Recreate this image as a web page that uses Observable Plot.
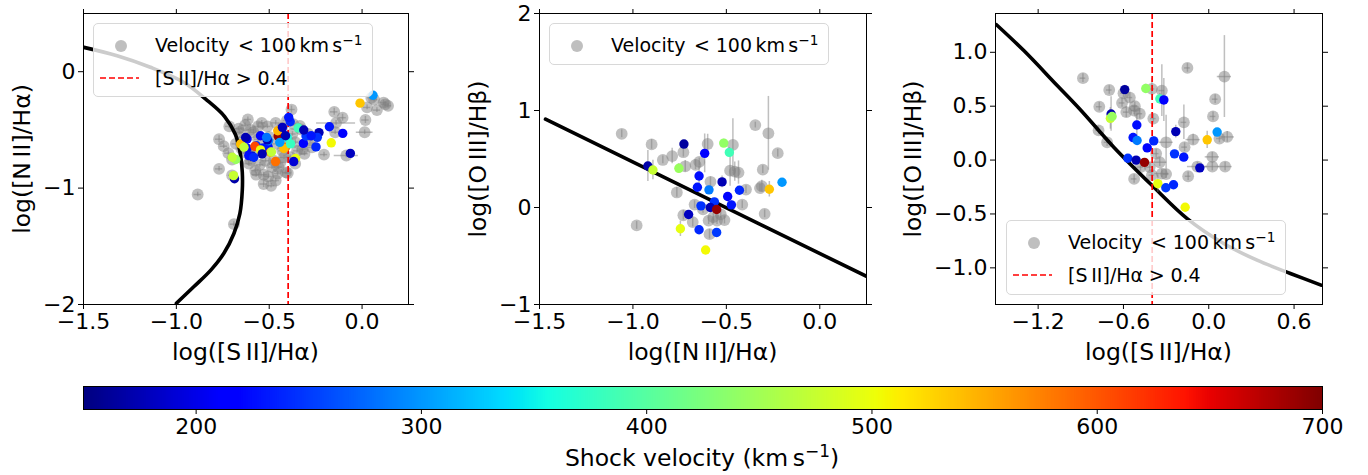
<!DOCTYPE html>
<html>
<head>
<meta charset="utf-8">
<script src="https://cdn.jsdelivr.net/npm/d3@7"></script>
<script src="https://cdn.jsdelivr.net/npm/@observablehq/plot@0.6"></script>
<style>
  html, body { margin: 0; padding: 0; background: #fff; }
  body { font-family: "DejaVu Sans", sans-serif; color: #000; }
  #wrap { position: relative; width: 1368px; height: 475px; overflow: hidden; background: #fff; }
  .pane { position: absolute; top: 0; }
  .pane svg { overflow: visible; }
  .lab { position: absolute; font-size: 23.5px; line-height: 1.2; white-space: nowrap; transform: translate(-50%, -50%); }
  .ylab { transform: translate(-50%, -50%) rotate(-90deg); }
  .lab sup, .ltext sup { font-size: 0.72em; vertical-align: 0.5em; line-height: 0; }
  .legend { position: absolute; box-sizing: border-box; background: rgba(255,255,255,0.8); border: 1px solid #d8d8d8; border-radius: 5px; }
  .ltext { position: absolute; font-size: 19px; line-height: 1.2; white-space: nowrap; transform: translateY(-50%); }
  .legend svg { position: absolute; left: 0; top: 0; }
</style>
</head>
<body>
<div id="wrap"></div>
<script>
// ---------------- data ----------------
// Shock-velocity objects (appear in all three panels)
const shockVel   = [165, 440, 385, 215, 170, 475, 445, 225, 175, 300, 230, 285, 535, 240, 220, 245, 230, 245, 175, 690, 180, 497, 240, 250, 505];
const shockN2    = [-0.727, -0.514, -0.484, -0.616, -0.92, -0.893, -0.754, -0.646, -0.523, -0.202, -0.655, -0.593, -0.27, -0.43, -0.493, -0.564, -0.473, -0.636, -0.586, -0.552, -0.702, -0.746, -0.646, -0.552, -0.611];
const shockS2    = [-0.591, -0.443, -0.344, -0.316, -0.687, -0.692, -0.68, -0.506, -0.232, 0.059, -0.532, -0.504, -0.011, -0.387, -0.433, -0.241, -0.176, -0.569, -0.511, -0.452, -0.063, -0.358, -0.248, -0.302, -0.166];
const shockO3    = [0.654, 0.664, 0.568, 0.558, 0.428, 0.387, 0.404, 0.325, 0.264, 0.26, 0.209, 0.182, 0.188, 0.178, 0.113, 0.058, 0.027, 0.017, 0.0, -0.021, -0.072, -0.219, -0.229, -0.257, -0.438];
const shockO3Err = [0.04, 0.04, 0.05, 0.2, 0.16, 0.1, 0.05, 0.1, 0.06, 0.03, 0.04, 0.04, 0.08, 0.04, 0.04, 0.03, 0.04, 0.03, 0.03, 0.03, 0.03, 0.08, 0.03, 0.03, 0.03];

// Extra shock objects seen only in panel 1: [log SII/Ha, log NII/Ha, velocity]
const p1Extra = [
  [-0.104,-0.53,215],[-0.395,-0.393,230],[-0.403,-0.564,360],[-0.412,-0.649,590],[-0.421,-0.66,540],
  [-0.454,-0.507,545],[-0.443,-0.607,300],[-0.385,-0.62,380],[-0.493,-0.692,560],[-0.466,-0.772,585],
  [-0.488,-0.69,470],[-0.547,-0.55,220],[-0.619,-0.578,215],[-0.619,-0.658,220],[-0.61,-0.721,225],
  [-0.577,-0.641,610],[-0.654,-0.621,540],[-0.636,-0.649,470],[-0.627,-0.565,175],[-0.583,-0.735,240],
  [-0.547,-0.672,500],[-0.429,-0.478,180],[-0.368,-0.772,190],[-0.538,-0.706,175],[-0.514,-0.564,280],
  [-0.412,-0.55,175],[-0.274,-0.55,230],[-0.314,-0.501,175],[-0.699,-0.735,470]
];

// Velocity < 100 km/s objects. Panel 1: [log SII/Ha, log NII/Ha, xerr, yerr]
const p1Gray = [
  [-0.885,-1.055,0.02,0.02],[-0.69,-1.31,0.02,0.02],[-0.77,-0.58,0.02,0.03],[-0.77,-0.835,0.02,0.02],
  [-0.70,-0.755,0.02,0.02],[-0.70,-0.89,0.02,0.03],[-0.715,-0.47,0.02,0.02],[-0.665,-0.49,0.02,0.02],
  [-0.63,-0.46,0.02,0.02],[-0.615,-0.41,0.02,0.02],[-0.585,-0.52,0.02,0.02],[-0.54,-0.44,0.02,0.02],
  [-0.51,-0.47,0.02,0.02],[-0.465,-0.44,0.02,0.02],[-0.38,-0.325,0.02,0.03],[-0.405,-0.42,0.02,0.02],
  [-0.335,-0.465,0.02,0.02],[-0.375,-0.535,0.02,0.02],[-0.33,-0.495,0.02,0.02],[-0.29,-0.535,0.02,0.02],
  [-0.36,-0.605,0.02,0.02],[-0.32,-0.665,0.02,0.02],[-0.27,-0.65,0.02,0.02],[-0.35,-0.68,0.02,0.02],
  [-0.31,-0.705,0.02,0.02],[-0.28,-0.59,0.02,0.02],[-0.205,-0.712,0.02,0.02],[-0.15,-0.345,0.02,0.03],
  [-0.105,-0.395,0.02,0.03],[-0.14,-0.44,0.105,0.02],[-0.145,-0.52,0.02,0.02],[0.018,-0.415,0.02,0.03],
  [0.014,-0.52,0.045,0.02],[0.027,-0.307,0.02,0.02],[0.08,-0.33,0.02,0.02],[0.05,-0.225,0.02,0.02],
  [0.116,-0.265,0.02,0.02],[0.14,-0.293,0.02,0.02],[0.125,-0.28,0.02,0.02],[0.065,-0.24,0.02,0.02],
  [-0.085,-0.72,0.065,0.02],[-0.61,-0.79,0.02,0.02],[-0.575,-0.85,0.02,0.02],[-0.53,-0.885,0.02,0.02],
  [-0.505,-0.9,0.02,0.02],[-0.53,-0.965,0.02,0.03],[-0.485,-0.82,0.02,0.02],[-0.455,-0.875,0.02,0.02],
  [-0.41,-0.865,0.02,0.02],[-0.44,-0.78,0.02,0.02],[-0.52,-0.765,0.02,0.02],[-0.36,-0.79,0.02,0.02],
  [-0.465,-0.935,0.02,0.02],[-0.475,-0.765,0.02,0.02],[-0.42,-0.735,0.02,0.02],[-0.385,-0.735,0.02,0.02],
  [-0.43,-0.68,0.02,0.02],[-0.45,-0.82,0.02,0.02],[-0.57,-0.885,0.02,0.02],[-0.60,-0.76,0.02,0.02],
  [-0.64,-0.59,0.02,0.02],[-0.58,-0.68,0.02,0.02],[-0.66,-0.52,0.02,0.02],[-0.56,-0.58,0.02,0.02],
  [-0.50,-0.56,0.02,0.02],[-0.46,-0.62,0.02,0.02],[-0.40,-0.60,0.02,0.02],[-0.52,-0.66,0.02,0.02],
  [-0.55,-0.80,0.02,0.02],[-0.62,-0.70,0.02,0.02],[-0.65,-0.66,0.02,0.02],[-0.68,-0.62,0.02,0.02],
  [-0.72,-0.70,0.02,0.02],[-0.745,-0.64,0.02,0.02],[-0.60,-0.50,0.02,0.02],[-0.56,-0.47,0.02,0.02],
  [-0.43,-0.48,0.02,0.02],[-0.37,-0.45,0.02,0.02],[-0.40,-0.87,0.02,0.02],[-0.49,-0.98,0.02,0.02]
];
// Panel 2: [log NII/Ha, log OIII/Hb, yerr]
const p2Gray = [
  [-1.06,0.76,0.04],[-0.90,0.65,0.05],[-0.84,0.49,0.04],[-0.79,0.53,0.08],[-0.73,0.57,0.05],
  [-0.72,0.425,0.06],[-0.665,0.44,0.05],[-0.645,0.47,0.04],[-0.60,0.655,0.1],[-0.765,0.155,0.05],
  [-0.585,0.265,0.05],[-0.67,0.03,0.04],[-0.625,-0.02,0.04],[-0.73,-0.08,0.05],[-0.68,-0.15,0.05],
  [-0.595,-0.135,0.04],[-0.55,-0.135,0.04],[-0.51,-0.13,0.04],[-0.53,-0.07,0.04],[-0.57,-0.10,0.04],
  [-0.59,-0.275,0.05],[-0.465,0.645,0.27],[-0.48,0.38,0.16],[-0.455,0.37,0.1],[-0.435,0.36,0.12],
  [-0.395,0.185,0.04],[-0.415,0.03,0.04],[-0.345,0.85,0.03],[-0.275,0.765,0.38],[-0.225,0.56,0.04],
  [-0.305,0.39,0.04],[-0.32,0.20,0.04],[-0.31,0.22,0.06],[-0.295,-0.065,0.04],[-0.98,-0.185,0.04]
];
// Panel 3: [log SII/Ha, log OIII/Hb, xerr, yerr]
const p3Gray = [
  [-0.885,0.76,0.02,0.04],[-0.70,0.65,0.02,0.04],[-0.77,0.495,0.02,0.04],[-0.60,0.62,0.02,0.04],
  [-0.555,0.58,0.02,0.05],[-0.61,0.53,0.02,0.04],[-0.58,0.445,0.02,0.05],[-0.525,0.46,0.02,0.04],
  [-0.485,0.43,0.02,0.05],[-0.52,0.50,0.02,0.04],[-0.39,0.385,0.02,0.04],[-0.40,0.66,0.02,0.1],
  [-0.33,0.645,0.02,0.24],[-0.15,0.855,0.02,0.04],[0.11,0.775,0.05,0.38],[0.045,0.565,0.02,0.04],
  [0.03,0.405,0.02,0.04],[-0.175,0.35,0.02,0.16],[-0.11,0.19,0.05,0.05],[-0.17,0.12,0.02,0.04],
  [-0.30,0.165,0.05,0.25],[0.075,0.20,0.02,0.04],[0.13,0.215,0.05,0.05],[-0.37,0.06,0.02,0.04],
  [-0.345,-0.02,0.05,0.04],[-0.415,-0.065,0.02,0.04],[-0.40,-0.14,0.02,0.05],[-0.33,-0.125,0.05,0.04],
  [-0.30,-0.13,0.02,0.04],[-0.525,-0.175,0.02,0.04],[-0.48,-0.065,0.02,0.04],[-0.715,0.165,0.02,0.04],
  [-0.775,0.275,0.02,0.04],[-0.145,-0.15,0.02,0.04],[0.025,0.03,0.05,0.04],[0.025,-0.06,0.05,0.04],
  [-0.08,-0.06,0.07,0.04],[0.115,-0.06,0.05,0.04]
];

// Demarcation curves
const p1Curve = [[-1.498,0.209],[-1.319,0.137],[-1.14,0.038],[-0.961,-0.091],[-0.842,-0.236],[-0.74,-0.385],
  [-0.682,-0.54],[-0.654,-0.72],[-0.645,-0.863],[-0.645,-1.02],[-0.658,-1.22],[-0.69,-1.39],[-0.744,-1.56],
  [-0.812,-1.70],[-0.905,-1.846],[-1.0,-1.99]];
const p2Curve = [[-1.468,0.91],[0.25,-0.71]];
const p3Curve = [[-1.493,1.256],[-1.301,1.016],[-1.066,0.692],[-0.903,0.467],[-0.668,0.12],[-0.4,-0.234],
  [-0.152,-0.543],[0.105,-0.774],[0.34,-0.929],[0.574,-1.052],[0.79,-1.16]];
const sIIThreshold = -0.398; // log10(0.4)

// Axis ticks
const p1XTicks = [-1.5, -1.0, -0.5, 0.0], p1YTicks = [-2, -1, 0];
const p2XTicks = [-1.5, -1.0, -0.5, 0.0], p2YTicks = [-1, 0, 1, 2];
const p3XTicks = [-1.2, -0.6, 0.0, 0.6], p3YTicks = [-1.0, -0.5, 0.0, 0.5, 1.0];
const velocityTicks = [200, 300, 400, 500, 600, 700];
const velocityDomain = [150, 700];

// ---------------- jet colormap ----------------
const jetR = d3.scaleLinear([0, 0.35, 0.66, 0.89, 1], [0, 0, 1, 1, 0.5]).clamp(true);
const jetG = d3.scaleLinear([0, 0.125, 0.375, 0.64, 0.91, 1], [0, 0, 1, 1, 0, 0]).clamp(true);
const jetB = d3.scaleLinear([0, 0.11, 0.34, 0.65, 1], [0.5, 1, 1, 0, 0]).clamp(true);
const jet = t => d3.rgb(255 * jetR(t), 255 * jetG(t), 255 * jetB(t)).formatHex();
const colorScale = {type: "linear", domain: velocityDomain, interpolate: jet, clamp: true};

const GRAY = "#808080";
const TICK_FONT = 22;
const wrap = document.getElementById("wrap");

function panel(o) {
  const marks = [
    Plot.ruleX(o.gray, {x: o.gx, y1: d => o.gy(d) - o.gey(d), y2: d => o.gy(d) + o.gey(d), stroke: GRAY, strokeOpacity: 0.5, strokeWidth: 1.5, clip: true}),
  ];
  if (o.gex) marks.push(Plot.ruleY(o.gray, {y: o.gy, x1: d => o.gx(d) - o.gex(d), x2: d => o.gx(d) + o.gex(d), stroke: GRAY, strokeOpacity: 0.5, strokeWidth: 1.5, clip: true}));
  marks.push(Plot.dot(o.gray, {x: o.gx, y: o.gy, r: 5.9, fill: GRAY, fillOpacity: 0.5, clip: true}));
  marks.push(Plot.line(o.curve, {x: d => d[0], y: d => d[1], stroke: "#000", strokeWidth: 3.6, curve: "catmull-rom", clip: true}));
  if (o.red != null) marks.push(Plot.ruleX([o.red], {stroke: "#ff0000", strokeWidth: 1.7, strokeDasharray: "6,3"}));
  if (o.colorErr) marks.push(Plot.ruleX(o.colored, {x: "x", y1: d => d.y - d.e, y2: d => d.y + d.e, stroke: GRAY, strokeOpacity: 0.5, strokeWidth: 1.5, clip: true}));
  marks.push(Plot.dot(o.colored, {x: "x", y: "y", fill: "v", r: 4.7, clip: true}));
  marks.push(Plot.frame({stroke: "#000", strokeWidth: 1}));
  marks.push(Plot.axisX({ticks: o.xTicks, tickFormat: d3.format(".1f"), tickSize: 5, tickPadding: 4, fontSize: TICK_FONT, label: null}));
  marks.push(Plot.axisX({anchor: "top", ticks: o.xTicks, tickFormat: () => "", tickSize: 5, label: null}));
  marks.push(Plot.axisY({ticks: o.yTicks, tickFormat: d3.format(o.yFmt), tickSize: 5, tickPadding: 3, fontSize: TICK_FONT, label: null}));
  marks.push(Plot.axisY({anchor: "right", ticks: o.yTicks, tickFormat: () => "", tickSize: 5, label: null}));
  const svg = Plot.plot({
    width: o.width, height: 370,
    marginLeft: o.ml, marginRight: o.mr, marginTop: 13, marginBottom: 66,
    style: {fontFamily: "DejaVu Sans", fontSize: TICK_FONT + "px", color: "#000", background: "transparent"},
    x: {domain: o.xDomain},
    y: {domain: o.yDomain},
    color: colorScale,
    marks
  });
  const div = document.createElement("div");
  div.className = "pane";
  div.style.left = o.left + "px";
  div.appendChild(svg);
  wrap.appendChild(div);
}

const shockP1 = shockVel.map((v, i) => ({x: shockS2[i], y: shockN2[i], v}))
  .concat(p1Extra.map(d => ({x: d[0], y: d[1], v: d[2]})));
const shockP2 = shockVel.map((v, i) => ({x: shockN2[i], y: shockO3[i], v, e: shockO3Err[i]}));
const shockP3 = shockVel.map((v, i) => ({x: shockS2[i], y: shockO3[i], v, e: shockO3Err[i]}));

panel({left: 0, width: 440, ml: 83, mr: 32, xDomain: [-1.5, 0.25], yDomain: [-2, 0.5],
  gray: p1Gray, gx: d => d[0], gy: d => d[1], gex: d => d[2], gey: d => d[3],
  curve: p1Curve, red: sIIThreshold, colored: shockP1, colorErr: false,
  xTicks: p1XTicks, yTicks: p1YTicks, yFmt: "d"});
panel({left: 440, width: 440, ml: 99, mr: 14, xDomain: [-1.5, 0.25], yDomain: [-1, 2],
  gray: p2Gray, gx: d => d[0], gy: d => d[1], gex: null, gey: d => d[2],
  curve: p2Curve, red: null, colored: shockP2, colorErr: true,
  xTicks: p2XTicks, yTicks: p2YTicks, yFmt: "d"});
panel({left: 890, width: 478, ml: 105, mr: 46, xDomain: [-1.5, 0.8], yDomain: [-1.34, 1.36],
  gray: p3Gray, gx: d => d[0], gy: d => d[1], gex: d => d[2], gey: d => d[3],
  curve: p3Curve, red: sIIThreshold, colored: shockP3, colorErr: true,
  xTicks: p3XTicks, yTicks: p3YTicks, yFmt: ".1f"});

// ---------------- colorbar ----------------
const cbSteps = d3.range(velocityDomain[0], velocityDomain[1], 1);
const cb = Plot.plot({
  width: 1368, height: 105, marginLeft: 83, marginRight: 46, marginTop: 16, marginBottom: 66,
  style: {fontFamily: "DejaVu Sans", fontSize: TICK_FONT + "px", color: "#000", background: "transparent"},
  x: {domain: velocityDomain},
  color: colorScale,
  marks: [
    Plot.rect(cbSteps, {x1: d => d, x2: d => d + 1.4, fill: d => d + 0.5, clip: true}),
    Plot.frame({stroke: "#000", strokeWidth: 1}),
    Plot.axisX({ticks: velocityTicks, tickFormat: d3.format("d"), tickSize: 5, tickPadding: 4, fontSize: TICK_FONT, label: null})
  ]
});
const cbDiv = document.createElement("div");
cbDiv.className = "pane";
cbDiv.style.left = "0px";
cbDiv.style.top = "370px";
cbDiv.appendChild(cb);
wrap.appendChild(cbDiv);

// ---------------- labels ----------------
function label(html, x, y, rotate) {
  const d = document.createElement("div");
  d.className = "lab" + (rotate ? " ylab" : "");
  d.style.left = x + "px";
  d.style.top = y + "px";
  d.innerHTML = html;
  wrap.appendChild(d);
}
const SII = "log([S\u2009II]/H\u03b1)", NII = "log([N\u2009II]/H\u03b1)", OIII = "log([O\u2009III]/H\u03b2)";
label(SII, 245.5, 352);
label(NII, 22, 158.5, true);
label(NII, 702.5, 352);
label(OIII, 478, 158.5, true);
label(SII, 1158.5, 352);
label(OIII, 913, 158.5, true);
label("Shock velocity (km\u2009s<sup>\u22121</sup>)", 702, 458);

// ---------------- legends ----------------
function legend(left, top, width, height, withRed) {
  const box = document.createElement("div");
  box.className = "legend";
  Object.assign(box.style, {left: left + "px", top: top + "px", width: width + "px", height: height + "px"});
  const ns = "http://www.w3.org/2000/svg";
  const s = document.createElementNS(ns, "svg");
  s.setAttribute("width", width); s.setAttribute("height", height);
  const c = document.createElementNS(ns, "circle");
  c.setAttribute("cx", 27); c.setAttribute("cy", 22); c.setAttribute("r", 6);
  c.setAttribute("fill", GRAY); c.setAttribute("fill-opacity", 0.5);
  s.appendChild(c);
  if (withRed) {
    const l = document.createElementNS(ns, "line");
    l.setAttribute("x1", 6); l.setAttribute("x2", 45); l.setAttribute("y1", 54); l.setAttribute("y2", 54);
    l.setAttribute("stroke", "#ff0000"); l.setAttribute("stroke-width", 1.7); l.setAttribute("stroke-dasharray", "6,3");
    s.appendChild(l);
  }
  box.appendChild(s);
  const t1 = document.createElement("div");
  t1.className = "ltext"; t1.style.left = "61px"; t1.style.top = "21px";
  t1.innerHTML = 'Velocity<span style="margin-left:.45em">&lt;</span><span style="margin-left:.3em">100</span><span style="margin-left:.18em">km</span><span style="margin-left:.18em">s<sup>\u22121</sup></span>';
  box.appendChild(t1);
  if (withRed) {
    const t2 = document.createElement("div");
    t2.className = "ltext"; t2.style.left = "61px"; t2.style.top = "54px";
    t2.innerHTML = '[S\u2009II]/H\u03b1<span style="margin-left:.3em">&gt;</span><span style="margin-left:.3em">0.4</span>';
    box.appendChild(t2);
  }
  wrap.appendChild(box);
}
legend(93, 23, 280, 74, true);
legend(549, 23, 280, 42, false);
legend(1006, 220, 280, 75, true);
</script>
</body>
</html>
